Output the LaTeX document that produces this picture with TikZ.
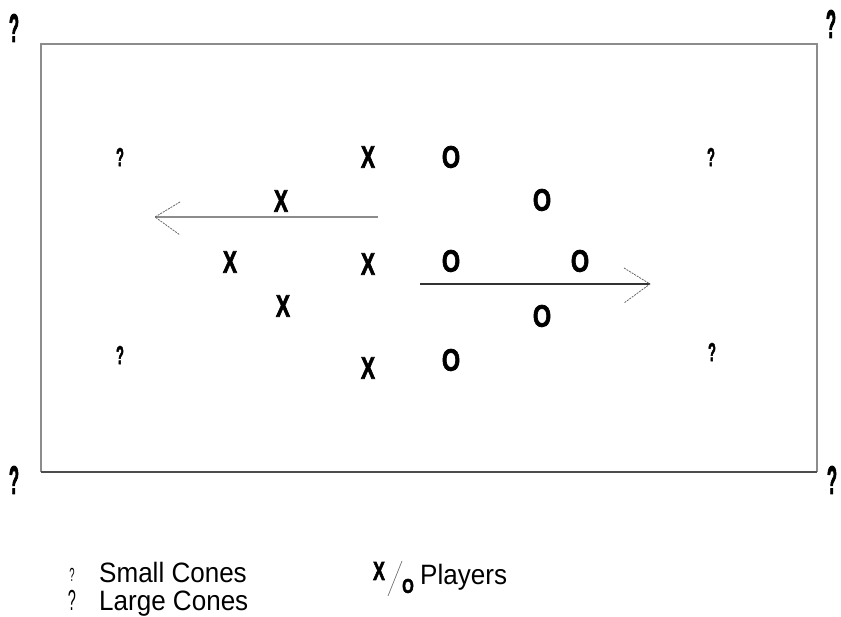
\documentclass[tikz,border=0pt]{standalone}
\usepackage{fontspec}
\setmainfont{Liberation Sans}
\newfontfamily\heavy[FakeBold=2.5]{Liberation Sans Bold}
\usepackage{graphicx}
\newcommand{\nx}[2]{\scalebox{#1}[1]{#2}}
\begin{document}
\begin{tikzpicture}[x=1pt,y=-1pt,
  glyph/.style={inner sep=0pt, anchor=center},
  plx/.style={glyph, font=\heavy\fontsize{31}{31}\selectfont},
  plo/.style={glyph, font=\heavy\fontsize{31}{31}\selectfont},
  bigcone/.style={glyph, font=\heavy\fontsize{40}{40}\selectfont},
  smallcone/.style={glyph, font=\heavy\fontsize{26}{26}\selectfont},
  legtext/.style={inner sep=0pt, anchor=base west, font=\fontsize{28}{28}\selectfont},
  field/.style={draw=black!45, line width=1.5pt},
  fieldbottom/.style={draw=black!70, line width=1.5pt},
  runleft/.style={draw=black!45, line width=2pt},
  runright/.style={draw=black!80, line width=2pt},
  head/.style={draw=black!60, line width=0.8pt, dash pattern=on 2pt off 1pt}
]
\useasboundingbox (0,0) rectangle (841,617);

% field
\coordinate (tl) at (41,44);
\coordinate (tr) at (817,44);
\coordinate (br) at (817,472);
\coordinate (bl) at (41,472);
\draw[field] (bl) -- (tl) -- (tr) -- (br);
\draw[fieldbottom] (bl) -- (br);

% large cones
\node[bigcone] (lc1) at (14,28) {\nx{0.42}{?}};
\node[bigcone] (lc2) at (831,24) {\nx{0.42}{?}};
\node[bigcone] (lc3) at (14,480) {\nx{0.42}{?}};
\node[bigcone] (lc4) at (832,480) {\nx{0.42}{?}};

% small cones
\node[smallcone] (sc1) at (120,157) {\nx{0.5}{?}};
\node[smallcone] (sc2) at (711,157) {\nx{0.5}{?}};
\node[smallcone] (sc3) at (120,355) {\nx{0.5}{?}};
\node[smallcone] (sc4) at (712,352) {\nx{0.5}{?}};

% players X
\node[plx] (x1) at (368,157) {\nx{0.68}{X}};
\node[plx] (x2) at (281,201) {\nx{0.68}{X}};
\node[plx] (x3) at (230,262) {\nx{0.68}{X}};
\node[plx] (x4) at (368,264) {\nx{0.68}{X}};
\node[plx] (x5) at (283,306) {\nx{0.68}{X}};
\node[plx] (x6) at (368,368) {\nx{0.68}{X}};

% players O
\node[plo] (o1) at (451,157) {\nx{0.76}{O}};
\node[plo] (o2) at (542,200) {\nx{0.76}{O}};
\node[plo] (o3) at (451,261) {\nx{0.76}{O}};
\node[plo] (o4) at (580,261) {\nx{0.76}{O}};
\node[plo] (o5) at (542,316) {\nx{0.76}{O}};
\node[plo] (o6) at (451,360) {\nx{0.76}{O}};

% run arrows
\coordinate (l1) at (378,217);
\coordinate (l2) at (155,217);
\draw[runleft] (l1) -- (l2);
\draw[head] (l2) ++(25,-15) -- (l2) -- ++(25,18);

\coordinate (r1) at (420,284);
\coordinate (r2) at (650,284);
\draw[runright] (r1) -- (r2);
\draw[head] (r2) ++(-26,-16) -- (r2) -- ++(-26,19);

% legend
\node[glyph, font=\fontsize{19}{19}\selectfont] (ls) at (72,575) {\nx{0.5}{?}};
\node[legtext] (lst) at (99,582) {\nx{0.93}{Small Cones}};
\node[glyph, font=\fontsize{29}{29}\selectfont] (ll) at (72,600) {\nx{0.5}{?}};
\node[legtext] (llt) at (99,610) {\nx{0.93}{Large Cones}};

\node[glyph, font=\heavy\fontsize{26}{26}\selectfont] (lx) at (379,571) {\nx{0.68}{X}};
\coordinate (s1) at (388,596);
\coordinate (s2) at (402,561);
\draw[draw=black!55, line width=0.7pt] (s1) -- (s2);
\node[glyph, font=\heavy\fontsize{20}{20}\selectfont] (lo) at (408,586) {\nx{0.75}{O}};
\node[legtext] (lpt) at (420,584) {\nx{0.93}{Players}};
\end{tikzpicture}
\end{document}
